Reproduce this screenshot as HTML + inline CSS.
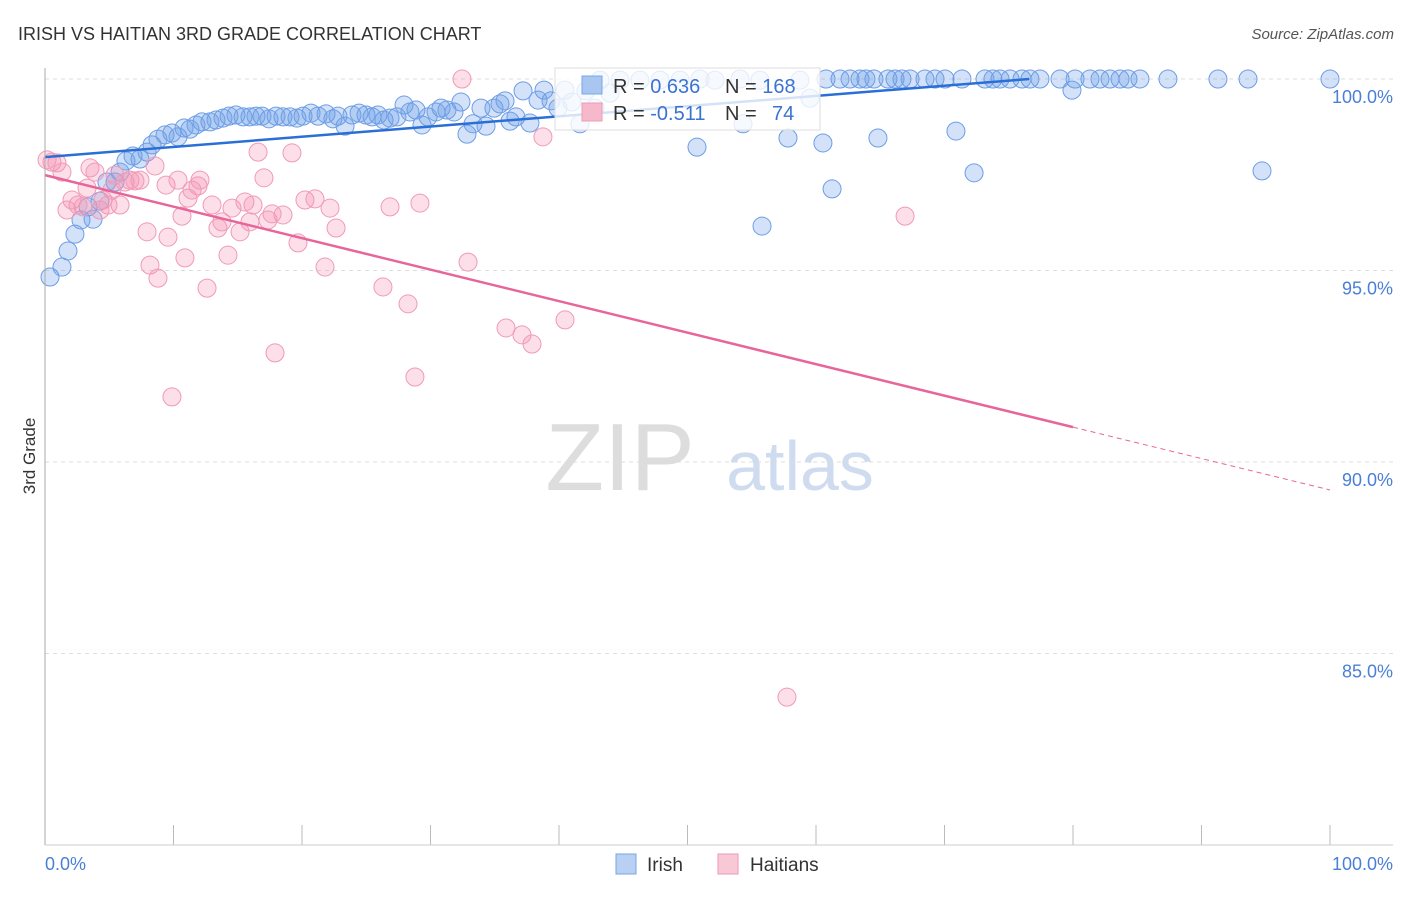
<!DOCTYPE html>
<html><head><meta charset="utf-8"><style>
body{margin:0;background:#fff;font-family:"Liberation Sans",sans-serif}
svg text{font-family:"Liberation Sans",sans-serif}
</style></head><body>
<svg width="1406" height="892" id="chart">
<text x="18" y="40" font-size="18" fill="#333">IRISH VS HAITIAN 3RD GRADE CORRELATION CHART</text>
<text x="1394" y="39" font-size="15" fill="#555" font-style="italic" text-anchor="end">Source: ZipAtlas.com</text>
<text x="35" y="456" font-size="17" fill="#333" transform="rotate(-90 35 456)" text-anchor="middle">3rd Grade</text>
<text x="620" y="490" font-size="96" fill="#ddd" font-family="Liberation Serif" text-anchor="middle">ZIP</text>
<text x="800" y="490" font-size="70" fill="#cfdcf0" text-anchor="middle">atlas</text>
<g id="grid"></g><g id="dots"></g><g id="lines"></g>
<line x1="45" y1="68" x2="45" y2="845" stroke="#aaa"/>
<line x1="45" y1="845" x2="1393" y2="845" stroke="#ccc"/>
<text x="45" y="870" font-size="18" fill="#4a7fd6">0.0%</text>
<text x="1393" y="870" font-size="18" fill="#4a7fd6" text-anchor="end">100.0%</text>
<g>
<rect x="555" y="68" width="265" height="62" fill="#fff" fill-opacity="0.8" stroke="#ddd"/>
<rect x="582" y="76" width="20" height="18" fill="#a9c6f0" stroke="#7aa6e6"/>
<rect x="582" y="103" width="20" height="18" fill="#f6b9cb" stroke="#ec9ab4"/>
<text x="613" y="93" font-size="20" fill="#333">R = <tspan fill="#3b73d1"> 0.636</tspan><tspan x="725">N = </tspan><tspan fill="#3b73d1">168</tspan></text>
<text x="613" y="120" font-size="20" fill="#333">R = <tspan fill="#3b73d1">-0.511</tspan><tspan x="725">N = </tspan><tspan fill="#3b73d1" x="772">74</tspan></text>
</g>
<rect x="616" y="854" width="20" height="20" fill="#b8d0f3" stroke="#7aa6e6"/>
<text x="647" y="871" font-size="19" fill="#333">Irish</text>
<text x="750" y="871" font-size="19" fill="#333">Haitians</text>
<rect x="718" y="854" width="20" height="20" fill="#f9c8d6" stroke="#ec9ab4"/>
</svg>
<script>
const yTicks=[100,95,90,85];
const yTickLabels=["100.0%","95.0%","90.0%","85.0%"];
const xTicks=[0,10,20,30,40,50,60,70,80,90,100];
const irishPx=[[50,277],[62,267],[68,251],[75,234],[81,220],[93,219],[88,207],[100,201],[107,182],[115,182],[120,172],[126,161],[133,156],[140,159],[147,152],[152,145],[158,139],[165,135],[172,133],[178,137],[184,128],[190,129],[196,125],[202,122],[210,122],[216,120],[223,118],[229,116],[236,115],[243,117],[250,117],[256,116],[262,116],[269,119],[276,116],[283,117],[290,117],[297,118],[303,116],[311,113],[318,116],[326,114],[333,119],[338,116],[345,126],[352,115],[359,113],[366,115],[372,117],[378,115],[384,120],[390,118],[397,117],[404,105],[410,112],[416,110],[422,125],[428,117],[436,112],[441,108],[447,110],[454,112],[461,102],[467,134],[473,124],[481,108],[486,126],[494,108],[500,104],[505,101],[510,121],[516,117],[523,91],[530,123],[538,100],[544,90],[551,101],[558,108],[565,90],[572,102],[580,124],[586,91],[595,108],[600,80],[610,93],[620,80],[640,80],[660,80],[680,80],[697,147],[700,79],[715,80],[740,79],[743,124],[760,80],[762,226],[788,138],[800,80],[810,98],[823,143],[826,79],[832,189],[840,79],[850,79],[860,79],[866,79],[874,79],[878,138],[888,79],[895,79],[902,79],[910,79],[925,79],[935,79],[945,79],[956,131],[962,79],[974,173],[985,79],[993,79],[1000,79],[1010,79],[1022,79],[1030,79],[1040,79],[1060,79],[1072,90],[1075,79],[1090,79],[1100,79],[1110,79],[1120,79],[1128,79],[1140,79],[1168,79],[1218,79],[1248,79],[1262,171],[1330,79]];
const haitiPx=[[47,160],[52,162],[57,163],[62,172],[67,210],[72,200],[78,205],[83,207],[87,188],[90,168],[95,172],[100,210],[103,200],[108,205],[112,190],[115,175],[120,205],[125,182],[130,180],[135,181],[140,180],[147,232],[150,265],[155,166],[158,278],[166,185],[168,237],[172,397],[178,180],[182,216],[185,258],[188,198],[192,190],[198,186],[200,180],[207,288],[212,205],[218,228],[222,222],[228,255],[232,208],[240,232],[245,202],[250,222],[253,205],[258,152],[264,178],[268,220],[272,214],[275,353],[283,215],[292,153],[298,243],[305,200],[315,199],[325,267],[330,208],[336,228],[383,287],[390,207],[408,304],[415,377],[420,203],[462,79],[468,262],[506,328],[522,335],[532,344],[543,137],[565,320],[787,697],[905,216]];
// convert reference reading to data values
const irishX=irishPx.map(p=>+((p[0]-45)/12.85).toFixed(2));
const irishY=irishPx.map(p=>+(100-(p[1]-79)/38.3).toFixed(2));
const haitiX=haitiPx.map(p=>+((p[0]-45)/12.85).toFixed(2));
const haitiY=haitiPx.map(p=>+(100-(p[1]-79)/38.3).toFixed(2));
const irishTrend=[[0,97.96],[76.6,100]];
const haitiTrend=[[0,97.49],[80,90.91],[100,89.27]];
const X=v=>45+v*12.85, Y=v=>79+(100-v)*38.3;
const NS="http://www.w3.org/2000/svg";
function mk(t,a,parent){const e=document.createElementNS(NS,t);for(const k in a)e.setAttribute(k,a[k]);document.getElementById(parent).appendChild(e);return e;}
yTicks.forEach((v,i)=>{
 const l=mk('line',{x1:45,x2:1393,y1:Y(v),y2:Y(v),stroke:'#ddd','stroke-dasharray':'4,4'},'grid');
 
 
 const t=mk('text',{x:1393,y:Y(v)+24,'font-size':18,fill:'#4a7fd6','text-anchor':'end'},'grid');
 t.textContent=yTickLabels[i];
 
 
});
xTicks.forEach(v=>{
 const l=mk('line',{x1:X(v),x2:X(v),y1:825,y2:845,stroke:'#bbb'},'grid');
 
 
});
irishX.forEach((x,i)=>{
 const c=mk('circle',{cx:X(x),cy:Y(irishY[i]),r:9,fill:'rgba(110,160,232,0.3)',stroke:'#6d9de6','stroke-width':1},'dots');
 
 
});
haitiX.forEach((x,i)=>{
 const c=mk('circle',{cx:X(x),cy:Y(haitiY[i]),r:9,fill:'rgba(245,150,180,0.3)',stroke:'#f09ab6','stroke-width':1},'dots');
 
 
});
const bl=mk('line',{x1:X(irishTrend[0][0]),y1:Y(irishTrend[0][1]),x2:X(irishTrend[1][0]),y2:Y(irishTrend[1][1]),stroke:'#2a6fd6','stroke-width':2.5},'lines');


const pl=mk('line',{x1:X(haitiTrend[0][0]),y1:Y(haitiTrend[0][1]),x2:X(haitiTrend[1][0]),y2:Y(haitiTrend[1][1]),stroke:'#e8659a','stroke-width':2.5},'lines');


const pd=mk('line',{x1:X(haitiTrend[1][0]),y1:Y(haitiTrend[1][1]),x2:X(haitiTrend[2][0]),y2:Y(haitiTrend[2][1]),stroke:'#e8659a','stroke-width':1,'stroke-dasharray':'5,4'},'lines');


</script>
</body></html>
